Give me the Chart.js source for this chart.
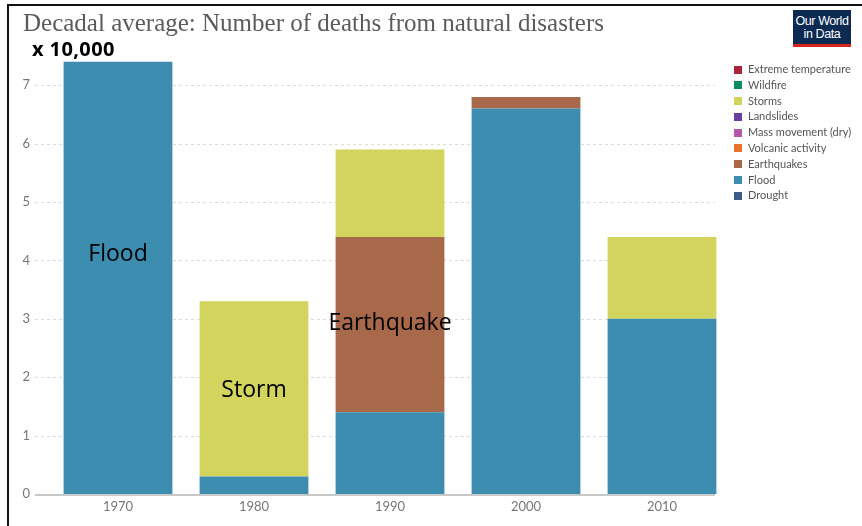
<!DOCTYPE html>
<html>
<head>
<meta charset="utf-8">
<script src="https://cdn.jsdelivr.net/npm/chart.js@4/dist/chart.umd.min.js"></script>
<style>
  html, body { margin: 0; padding: 0; background: #fff; }
  #wrap { position: relative; width: 862px; height: 526px; overflow: hidden; background: #fff; }
  #frame { position: absolute; left: 7px; top: 4px; width: 900px; height: 600px;
           border-left: 2px solid #111; border-top: 2px solid #111; }
  #chart { position: absolute; left: 0; top: 0; }
  #title { position: absolute; left: 23px; top: 9px; font-family: "Liberation Serif", serif;
           font-size: 25px; color: #5b5b5b; white-space: nowrap; }
  #unit { position: absolute; left: 32px; top: 35px; font-family: "Open Sans", sans-serif;
          font-weight: bold; font-size: 20px; color: #000; white-space: nowrap; letter-spacing: 0.4px; }
  #logo { position: absolute; left: 793px; top: 10px; width: 58px; background: #0d2a52;
          border-bottom: 3px solid #d4261d; color: #fff; font-family: "Liberation Sans Narrow", "Liberation Sans", sans-serif;
          font-size: 12.5px; line-height: 13px; text-align: center; padding-top: 5px; height: 29px; letter-spacing: -0.4px; }
  #legend { position: absolute; left: 734px; top: 61px; font-family: Lato, sans-serif; font-size: 11px; color: #555; }
  #legend .item { height: 15.8px; line-height: 15.8px; white-space: nowrap; }
  #legend .sw { display: inline-block; width: 8px; height: 8px; margin-right: 6px; vertical-align: -0.5px; }
</style>
</head>
<body>
<div id="wrap">
  <canvas id="chart" width="862" height="526"></canvas>
  <div id="frame"></div>
  <div id="title">Decadal average: Number of deaths from natural disasters</div>
  <div id="unit">x 10,000</div>
  <div id="logo">Our World<br>in Data</div>
  <div id="legend"></div>
</div>
<script>
// Decades on the x axis
const decades = ['1970', '1980', '1990', '2000', '2010'];

// Average annual deaths per decade, in units of 10,000
const flood       = [7.4, 0.3, 1.4, 6.6, 3.0];
const earthquakes = [0,   0,   3.0, 0.2, 0  ];
const storms      = [0,   3.0, 1.5, 0,   1.4];

// Y axis tick values
const yTicks = [0, 1, 2, 3, 4, 5, 6, 7];

// Legend entries, top to bottom
const legendNames = ['Extreme temperature', 'Wildfire', 'Storms', 'Landslides',
  'Mass movement (dry)', 'Volcanic activity', 'Earthquakes', 'Flood', 'Drought'];

const palette = {
  'Extreme temperature': '#a5263d',
  'Wildfire': '#0b8c64',
  'Storms': '#d2d45e',
  'Landslides': '#6a3ea1',
  'Mass movement (dry)': '#b458a9',
  'Volcanic activity': '#e8712b',
  'Earthquakes': '#a8694a',
  'Flood': '#3d8db0',
  'Drought': '#3d5b87'
};

// Text written on top of the bars
const callouts = [
  { decade: '1970', text: 'Flood',      at: 4.1 },
  { decade: '1980', text: 'Storm',      at: 1.78 },
  { decade: '1990', text: 'Earthquake', at: 2.92 }
];

// Build the HTML legend
const legendEl = document.getElementById('legend');
legendNames.forEach(name => {
  const row = document.createElement('div');
  row.className = 'item';
  const sw = document.createElement('span');
  sw.className = 'sw';
  sw.style.background = palette[name];
  row.appendChild(sw);
  row.appendChild(document.createTextNode(name));
  legendEl.appendChild(row);
});

// Gridlines and baseline, shifted slightly left of the bar bands
const gridPlugin = {
  id: 'owidGrid',
  beforeDatasetsDraw(chart) {
    const { ctx, chartArea, scales } = chart;
    const shift = 15;
    const x0 = chartArea.left - shift, x1 = chartArea.right - shift;
    ctx.save();
    yTicks.forEach(v => {
      if (v === 0) return;
      const y = Math.round(scales.y.getPixelForValue(v));
      ctx.beginPath();
      ctx.setLineDash([3, 3]);
      ctx.strokeStyle = '#dcdcdc';
      ctx.lineWidth = 1;
      ctx.moveTo(x0, y + 0.5);
      ctx.lineTo(x1, y + 0.5);
      ctx.stroke();
    });
    ctx.restore();
  },
  afterDatasetsDraw(chart) {
    const { ctx, chartArea, scales } = chart;
    const shift = 15;
    const y = scales.y.getPixelForValue(0);
    ctx.save();
    ctx.setLineDash([]);
    ctx.strokeStyle = '#c8c8c8';
    ctx.lineWidth = 2;
    ctx.beginPath();
    ctx.moveTo(chartArea.left - shift, y + 1);
    ctx.lineTo(chartArea.right - shift, y + 1);
    ctx.stroke();

    ctx.fillStyle = '#000';
    ctx.font = '23px "Open Sans", sans-serif';
    ctx.textAlign = 'center';
    ctx.textBaseline = 'middle';
    callouts.forEach(c => {
      const x = scales.x.getPixelForValue(decades.indexOf(c.decade));
      ctx.fillText(c.text, x, scales.y.getPixelForValue(c.at));
    });
    ctx.restore();
  }
};

new Chart(document.getElementById('chart'), {
  type: 'bar',
  data: {
    labels: decades,
    datasets: [
      { label: 'Flood', data: flood, backgroundColor: palette['Flood'] },
      { label: 'Earthquakes', data: earthquakes, backgroundColor: palette['Earthquakes'] },
      { label: 'Storms', data: storms, backgroundColor: palette['Storms'] }
    ]
  },
  options: {
    responsive: false,
    animation: false,
    devicePixelRatio: 1,
    layout: { padding: { top: 56, right: 132, left: 0, bottom: 0 } },
    datasets: { bar: { barPercentage: 0.8, categoryPercentage: 1.0, borderWidth: 0 } },
    plugins: { legend: { display: false }, title: { display: false }, tooltip: { enabled: false } },
    scales: {
      x: {
        stacked: true,
        grid: { display: false, drawTicks: false },
        border: { display: false },
        ticks: { color: '#777', font: { family: 'Lato', size: 13 }, padding: 5 },
        afterFit(s) { s.height = 32; }
      },
      y: {
        stacked: true,
        min: 0,
        max: 7.5,
        grid: { display: false, drawTicks: false },
        border: { display: false },
        afterBuildTicks(s) { s.ticks = yTicks.map(v => ({ value: v })); },
        ticks: { color: '#777', font: { family: 'Lato', size: 13 }, padding: 20 },
        afterFit(s) { s.width = 50; }
      }
    }
  },
  plugins: [gridPlugin]
});
</script>
</body>
</html>
